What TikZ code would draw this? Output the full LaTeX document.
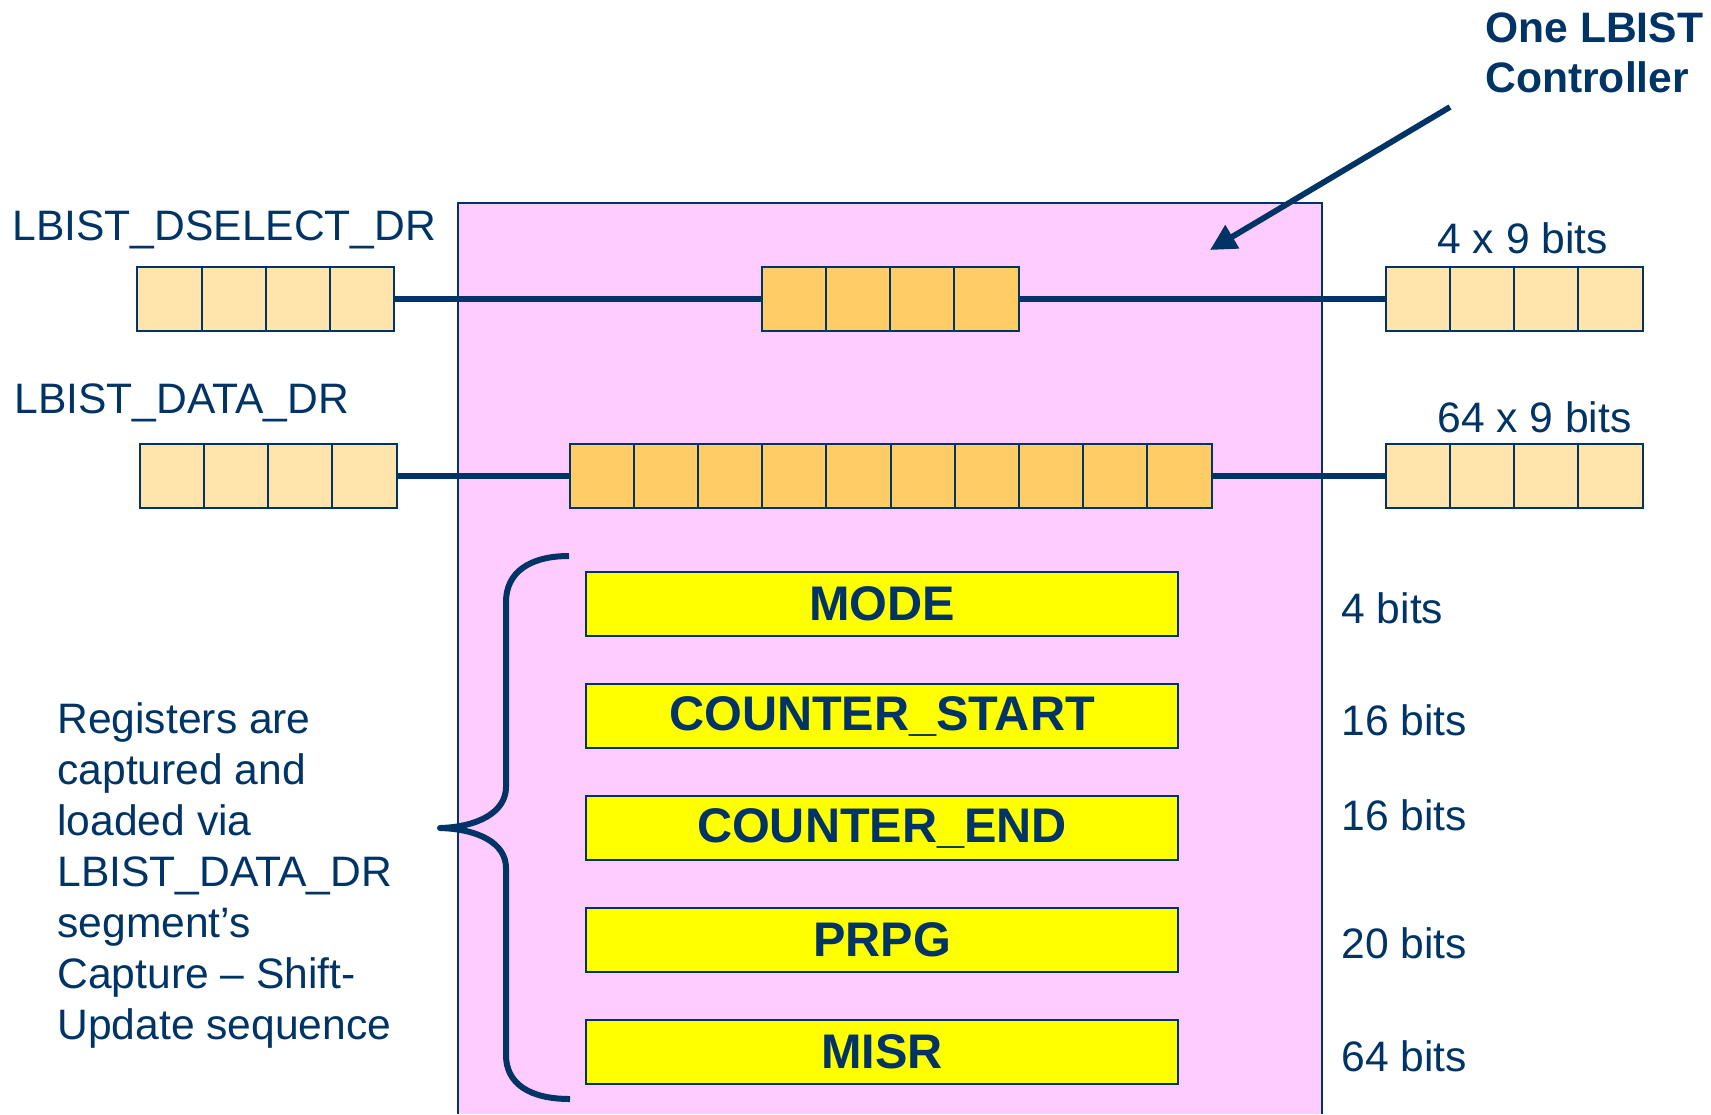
\documentclass[tikz,border=0pt]{standalone}
\usepackage{fontspec}
\setmainfont{Liberation Sans}
\usetikzlibrary{arrows.meta, positioning}
\definecolor{navy}{RGB}{0,51,102}
\definecolor{ctrlpink}{RGB}{255,204,255}
\definecolor{cellorange}{RGB}{255,204,102}
\definecolor{celllight}{RGB}{255,228,172}
\definecolor{regyellow}{RGB}{255,255,0}

\begin{document}
\begin{tikzpicture}[
    x=0.5pt, y=-0.5pt,
    font=\fontsize{21.3}{25.5}\selectfont, text=navy,
    cell/.style={rectangle, draw=navy, line width=1pt, minimum width=32.1pt, minimum height=32pt, inner sep=0pt, outer sep=0pt},
    outcell/.style={cell, fill=celllight},
    incell/.style={cell, fill=cellorange},
    regbox/.style={rectangle, draw=navy, line width=1pt, fill=regyellow, minimum width=296pt, minimum height=32pt, inner sep=0pt, outer sep=0pt, font=\fontsize{24.3}{28}\selectfont\bfseries},
    wire/.style={draw=navy, line width=3.1pt},
    note/.style={anchor=base west, inner sep=0pt},
]
\useasboundingbox (0,0) rectangle (1711,1114);

% controller box, open at the bottom
\node[fill=ctrlpink, minimum width=432pt, minimum height=455.5pt, inner sep=0pt, outer sep=0pt] (ctrl) at (890,658.5) {};
\draw[navy, line width=1pt] (ctrl.south west) |- (ctrl.north east) -- (ctrl.south east);

% brace over the registers
\draw[navy, line width=3pt, line join=round]
    (569,556) .. controls (530,556) and (506,572) .. (506,602)
    -- (506,787) .. controls (506,812) and (478,827) .. (440,828)
    .. controls (478,829) and (506,843) .. (506,868)
    -- (506,1055) .. controls (506,1084) and (530,1099) .. (570,1099);

% shift register segments
\foreach \nm/\st/\n/\x/\y in {dsl/outcell/4/137.3/299, dsm/incell/4/761.7/299, dsr/outcell/4/1385.7/299,
                             dtl/outcell/4/139.7/475.8, dtm/incell/10/569.6/475.8, dtr/outcell/4/1385.7/475.8} {
  \foreach \i in {1,...,\n} {
    \node[\st] (\nm-\i) at ({\x+64.2*(\i-0.5)},\y) {};
  }
}

\draw[wire] (dsl-4.east) -- (dsm-1.west);
\draw[wire] (dsm-4.east) -- (dsr-1.west);
\draw[wire] (dtl-4.east) -- (dtm-1.west);
\draw[wire] (dtm-10.east) -- (dtr-1.west);

\node[note] (dslname) at (12,240) {LBIST\_DSELECT\_DR};
\node[note] (dtlname) at (14,413) {LBIST\_DATA\_DR};
\node[note] (dswidth) at (1437,253) {4 x 9 bits};
\node[note] (dtwidth) at (1437,432) {64 x 9 bits};

% internal registers
\node[regbox] (mode) at (882,604) {MODE};
\node[regbox, below=24pt of mode]   (cstart) {COUNTER\_START};
\node[regbox, below=24pt of cstart] (cend)   {COUNTER\_END};
\node[regbox, below=24pt of cend]   (prpg)   {PRPG};
\node[regbox, below=24pt of prpg]   (misr)   {MISR};

\node[note] (bmode)   at (1341,623.3)  {4 bits};
\node[note] (bcstart) at (1341,735)    {16 bits};
\node[note] (bcend)   at (1341,830)    {16 bits};
\node[note] (bprpg)   at (1341,958.3)  {20 bits};
\node[note] (bmisr)   at (1341,1071.7) {64 bits};

\node[anchor=north west, inner sep=0pt, align=left] (capnote) at (57,702)
    {Registers are\\captured and\\loaded via\\LBIST\_DATA\_DR\\segment’s\\Capture – Shift-\\Update sequence};

% pointer to the controller
\node[anchor=north west, inner sep=0pt, align=left, font=\fontsize{21.3}{25.35}\selectfont\bfseries] (ctrlname) at (1485,12)
    {One LBIST\\Controller};
\coordinate (ptrtail) at (1450,107);
\coordinate (ptrtip)  at (1210,250);
\draw[navy, line width=2.9pt, -{Triangle[length=13pt, width=13pt]}] (ptrtail) -- (ptrtip);

\end{tikzpicture}
\end{document}
